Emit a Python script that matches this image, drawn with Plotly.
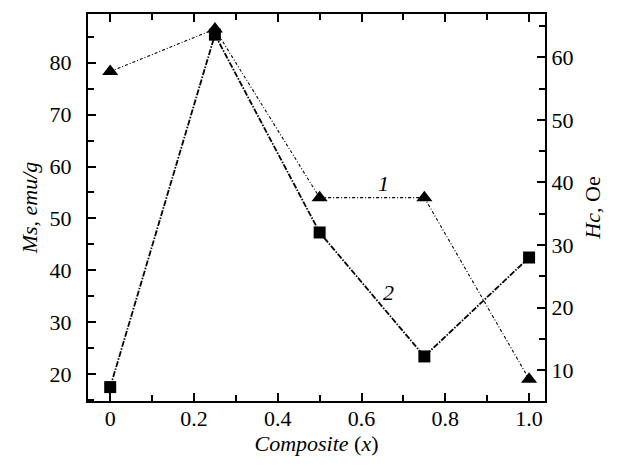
import plotly.graph_objects as go

# Composition of the composite and measured magnetic properties
composite_x = [0, 0.25, 0.5, 0.75, 1.0]
ms_emu_g = [78.3, 86.5, 54.0, 54.0, 19.0]     # curve 1, saturation magnetization
hc_oe = [7.3, 63.6, 32.0, 12.2, 28.0]         # curve 2, coercivity
x_ticks = [0, 0.2, 0.4, 0.6, 0.8, 1.0]
x_tick_text = ["0", "0.2", "0.4", "0.6", "0.8", "1.0"]

FONT = "Liberation Serif"
SIZE = 22

fig = go.Figure()

fig.add_trace(go.Scatter(
    x=composite_x, y=ms_emu_g, yaxis="y", mode="lines+markers",
    line=dict(color="black", width=1.1, dash="3px,2px,1px,2px"),
    marker=dict(symbol="triangle-up", size=14, color="black"),
    showlegend=False,
))
fig.add_trace(go.Scatter(
    x=composite_x, y=hc_oe, yaxis="y2", mode="lines+markers",
    line=dict(color="black", width=1.8, dash="6px,1.5px,1.5px,1.5px"),
    marker=dict(symbol="square", size=12, color="black"),
    showlegend=False,
))

# Curve numbers
fig.add_annotation(x=0.653, y=56.8, xref="x", yref="y", text="<i>1</i>",
                   showarrow=False, font=dict(family=FONT, size=SIZE, color="black"))
fig.add_annotation(x=0.665, y=35.7, xref="x", yref="y", text="<i>2</i>",
                   showarrow=False, font=dict(family=FONT, size=SIZE, color="black"))

tick_font = dict(family=FONT, size=SIZE, color="black")
title_font = dict(family=FONT, size=SIZE, color="black")

fig.update_layout(
    width=626, height=468,
    margin=dict(l=88, r=81, t=12, b=67),
    paper_bgcolor="white", plot_bgcolor="white",
    showlegend=False,
)
fig.update_xaxes(
    range=[-0.053, 1.038], tickvals=x_ticks, ticktext=x_tick_text,
    ticks="inside", ticklen=8, tickwidth=1.5, tickcolor="black",
    minor=dict(dtick=0.1, tick0=0, ticks="inside", ticklen=6, tickwidth=1.5, tickcolor="black"),
    showline=True, linewidth=2, linecolor="black", mirror="ticks",
    showgrid=False, zeroline=False, tickfont=tick_font, ticklabelstandoff=-3,
    title=dict(text="<i>Composite</i> (<i>x</i>)", font=title_font, standoff=0),
)
fig.update_layout(
    yaxis=dict(
        range=[14.8, 89.4], dtick=10, tick0=0,
        ticks="inside", ticklen=8, tickwidth=1.5, tickcolor="black",
        minor=dict(dtick=5, tick0=0, ticks="inside", ticklen=6, tickwidth=1.5, tickcolor="black"),
        showline=True, linewidth=2, linecolor="black", mirror=False,
        showgrid=False, zeroline=False, tickfont=tick_font, ticklabelstandoff=10,
        title=dict(text="<i>Ms</i>, <i>emu/g</i>", font=title_font, standoff=6),
    ),
    yaxis2=dict(
        range=[5.08, 66.9], dtick=10, tick0=0, overlaying="y", side="right",
        ticks="inside", ticklen=8, tickwidth=1.5, tickcolor="black",
        minor=dict(dtick=5, tick0=0, ticks="inside", ticklen=6, tickwidth=1.5, tickcolor="black"),
        showline=True, linewidth=2, linecolor="black",
        showgrid=False, zeroline=False, tickfont=tick_font,
        title=dict(text="<i>Hc</i>, Oe", font=title_font, standoff=12),
    ),
)

fig.write_html("out.html")
